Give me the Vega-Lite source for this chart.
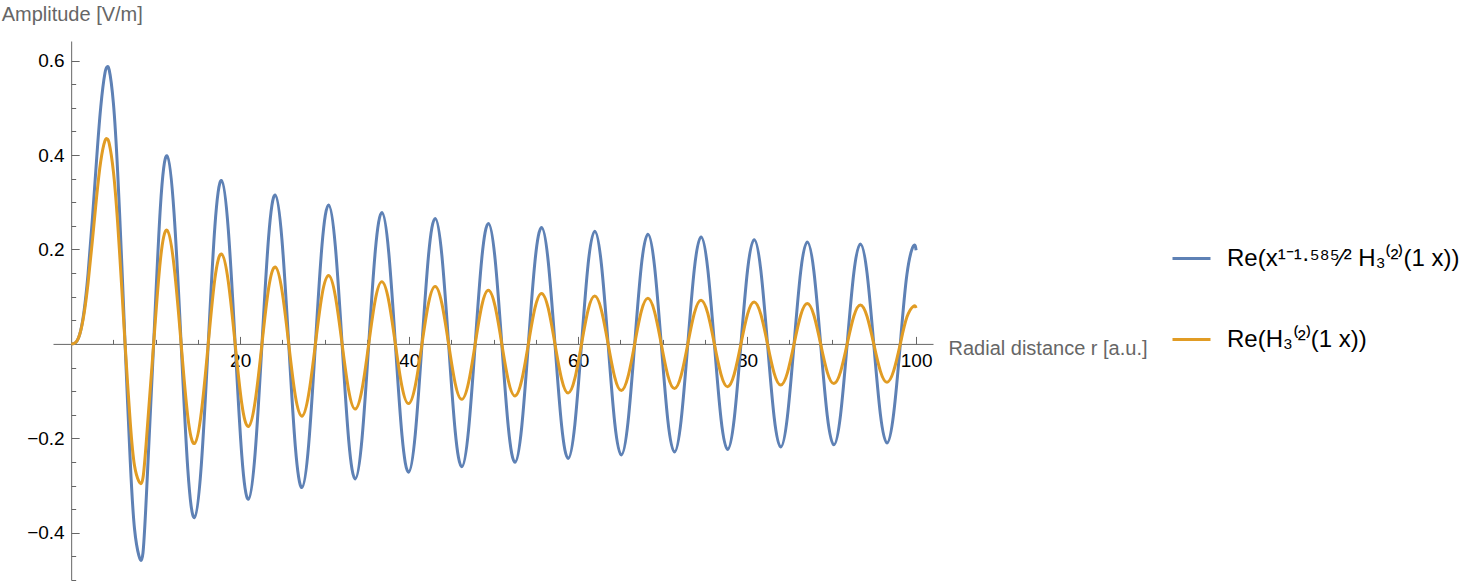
{
  "$schema": "https://vega.github.io/schema/vega-lite/v6.json",
  "width": 880,
  "height": 539,
  "autosize": {"type": "none"},
  "padding": {"left": 53, "top": 41, "right": 541, "bottom": 8},
  "background": "white",
  "config": {
    "view": {"stroke": null},
    "axis": {
      "grid": false,
      "domainColor": "#666666",
      "tickColor": "#666666",
      "labelColor": "#000000",
      "labelFont": "Liberation Sans",
      "labelFontSize": 19,
      "titleFont": "Liberation Sans",
      "titleFontSize": 20,
      "titleColor": "#666666",
      "titleFontWeight": "normal",
      "labelFlush": false,
      "labelOverlap": false
    }
  },
  "data": {
    "values": [
      {"x": 0, "a": 0, "b": 0},
      {"x": 0.5, "a": 0.00222, "b": 0.00256},
      {"x": 1, "a": 0.01956, "b": 0.01956},
      {"x": 1.5, "a": 0.06632, "b": 0.06097},
      {"x": 2, "a": 0.14889, "b": 0.12894},
      {"x": 2.5, "a": 0.26197, "b": 0.21661},
      {"x": 3, "a": 0.38819, "b": 0.30906},
      {"x": 3.5, "a": 0.50159, "b": 0.38677},
      {"x": 4, "a": 0.57355, "b": 0.43017},
      {"x": 4.25, "a": 0.58616, "b": 0.43414},
      {"x": 4.5, "a": 0.58027, "b": 0.4247},
      {"x": 5, "a": 0.50948, "b": 0.36483},
      {"x": 5.5, "a": 0.36481, "b": 0.25612},
      {"x": 6, "a": 0.16646, "b": 0.11477},
      {"x": 6.3802, "a": 0, "b": 0},
      {"x": 7, "a": -0.25092, "b": -0.16756},
      {"x": 7.5, "a": -0.39201, "b": -0.25806},
      {"x": 8.0152, "a": -0.44839, "b": -0.29113},
      {"x": 8.5, "a": -0.44224, "b": -0.28366},
      {"x": 9, "a": -0.28544, "b": -0.18093},
      {"x": 9.761, "a": 0, "b": 0},
      {"x": 10.55345, "a": 0.28789, "b": 0.17657},
      {"x": 11.3459, "a": 0.39838, "b": 0.24067},
      {"x": 12.18055, "a": 0.27605, "b": 0.16435},
      {"x": 13.0152, "a": 0, "b": 0},
      {"x": 13.8005, "a": -0.26444, "b": -0.1534},
      {"x": 14.5858, "a": -0.36785, "b": -0.21094},
      {"x": 15.40465, "a": -0.25607, "b": -0.14519},
      {"x": 16.2235, "a": 0, "b": 0},
      {"x": 17.0061, "a": 0.24797, "b": 0.13774},
      {"x": 17.7887, "a": 0.34602, "b": 0.19041},
      {"x": 18.59905, "a": 0.24156, "b": 0.13171},
      {"x": 19.4094, "a": 0, "b": 0},
      {"x": 20.191, "a": -0.23539, "b": -0.12618},
      {"x": 20.9726, "a": -0.32916, "b": -0.17505},
      {"x": 21.77765, "a": -0.23024, "b": -0.12149},
      {"x": 22.5827, "a": 0, "b": 0},
      {"x": 23.3638, "a": 0.22527, "b": 0.11715},
      {"x": 24.1449, "a": 0.31549, "b": 0.16295},
      {"x": 24.9465, "a": 0.22099, "b": 0.11337},
      {"x": 25.7481, "a": 0, "b": 0},
      {"x": 26.52905, "a": -0.21688, "b": -0.10985},
      {"x": 27.31, "a": -0.3041, "b": -0.1531},
      {"x": 28.10915, "a": -0.21324, "b": -0.10672},
      {"x": 28.9083, "a": 0, "b": 0},
      {"x": 29.6893, "a": 0.20973, "b": 0.10378},
      {"x": 30.4703, "a": 0.29434, "b": 0.14486},
      {"x": 31.26755, "a": 0.20658, "b": 0.10113},
      {"x": 32.0648, "a": 0, "b": 0},
      {"x": 32.84585, "a": -0.20355, "b": -0.09863},
      {"x": 33.6269, "a": -0.28587, "b": -0.13784},
      {"x": 34.4228, "a": -0.20078, "b": -0.09634},
      {"x": 35.2187, "a": 0, "b": 0},
      {"x": 35.99985, "a": 0.1981, "b": 0.09418},
      {"x": 36.781, "a": 0.27839, "b": 0.13176},
      {"x": 37.57575, "a": 0.19563, "b": 0.09218},
      {"x": 38.3705, "a": 0, "b": 0},
      {"x": 39.1518, "a": -0.19324, "b": -0.09029},
      {"x": 39.9331, "a": -0.2717, "b": -0.12642},
      {"x": 40.7269, "a": -0.19103, "b": -0.08852},
      {"x": 41.5207, "a": 0, "b": 0},
      {"x": 42.3022, "a": 0.1889, "b": 0.08685},
      {"x": 43.0837, "a": 0.26571, "b": 0.1217},
      {"x": 43.87675, "a": 0.18689, "b": 0.08528},
      {"x": 44.6698, "a": 0, "b": 0},
      {"x": 45.4514, "a": -0.18494, "b": -0.08377},
      {"x": 46.233, "a": -0.26024, "b": -0.11746},
      {"x": 47.0254, "a": -0.18311, "b": -0.08236},
      {"x": 47.8178, "a": 0, "b": 0},
      {"x": 48.59955, "a": 0.18133, "b": 0.081},
      {"x": 49.3813, "a": 0.25524, "b": 0.11364},
      {"x": 50.17315, "a": 0.17965, "b": 0.07972},
      {"x": 50.965, "a": 0, "b": 0},
      {"x": 51.74695, "a": -0.17801, "b": -0.07849},
      {"x": 52.5289, "a": -0.25064, "b": -0.11017},
      {"x": 53.3203, "a": -0.17646, "b": -0.07732},
      {"x": 54.1117, "a": 0, "b": 0},
      {"x": 54.8937, "a": 0.17494, "b": 0.0762},
      {"x": 55.6757, "a": 0.24638, "b": 0.107},
      {"x": 56.4667, "a": 0.1735, "b": 0.07513},
      {"x": 57.2577, "a": 0, "b": 0},
      {"x": 58.0399, "a": -0.1721, "b": -0.0741},
      {"x": 58.8221, "a": -0.24243, "b": -0.10409},
      {"x": 59.6127, "a": -0.17076, "b": -0.07312},
      {"x": 60.4033, "a": 0, "b": 0},
      {"x": 61.1856, "a": 0.16946, "b": 0.07217},
      {"x": 61.9679, "a": 0.23876, "b": 0.10141},
      {"x": 62.7582, "a": 0.16821, "b": 0.07126},
      {"x": 63.5485, "a": 0, "b": 0},
      {"x": 64.3309, "a": -0.16699, "b": -0.07038},
      {"x": 65.1133, "a": -0.23532, "b": -0.09893},
      {"x": 65.9033, "a": -0.16581, "b": -0.06953},
      {"x": 66.6933, "a": 0, "b": 0},
      {"x": 67.47575, "a": 0.16465, "b": 0.06871},
      {"x": 68.2582, "a": 0.23206, "b": 0.09661},
      {"x": 69.048, "a": 0.16354, "b": 0.06792},
      {"x": 69.8378, "a": 0, "b": 0},
      {"x": 70.6204, "a": -0.16247, "b": -0.06716},
      {"x": 71.403, "a": -0.22903, "b": -0.09446},
      {"x": 72.19255, "a": -0.16143, "b": -0.06643},
      {"x": 72.9821, "a": 0, "b": 0},
      {"x": 73.7648, "a": 0.16041, "b": 0.06571},
      {"x": 74.5475, "a": 0.22615, "b": 0.09244},
      {"x": 75.33685, "a": 0.15942, "b": 0.06502},
      {"x": 76.1262, "a": 0, "b": 0},
      {"x": 76.90895, "a": -0.15846, "b": -0.06435},
      {"x": 77.6917, "a": -0.22343, "b": -0.09055},
      {"x": 78.48085, "a": -0.15753, "b": -0.06371},
      {"x": 79.27, "a": 0, "b": 0},
      {"x": 80.05285, "a": 0.15661, "b": 0.06308},
      {"x": 80.8357, "a": 0.22085, "b": 0.08877},
      {"x": 81.6247, "a": 0.15572, "b": 0.06247},
      {"x": 82.4137, "a": 0, "b": 0},
      {"x": 83.19665, "a": -0.15487, "b": -0.06188},
      {"x": 83.9796, "a": -0.21842, "b": -0.0871},
      {"x": 84.76845, "a": -0.15403, "b": -0.0613},
      {"x": 85.5573, "a": 0, "b": 0},
      {"x": 86.3403, "a": 0.15317, "b": 0.06073},
      {"x": 87.1233, "a": 0.21604, "b": 0.0855},
      {"x": 87.912, "a": 0.15236, "b": 0.06019},
      {"x": 88.7007, "a": 0, "b": 0},
      {"x": 89.48375, "a": -0.15158, "b": -0.05966},
      {"x": 90.2668, "a": -0.21382, "b": -0.084},
      {"x": 91.0554, "a": -0.15081, "b": -0.05914},
      {"x": 91.844, "a": 0, "b": 0},
      {"x": 92.6271, "a": 0.15007, "b": 0.05864},
      {"x": 93.4102, "a": 0.21171, "b": 0.08258},
      {"x": 94.1987, "a": 0.14934, "b": 0.05815},
      {"x": 94.9872, "a": 0, "b": 0},
      {"x": 95.77035, "a": -0.1486, "b": -0.05767},
      {"x": 96.5535, "a": -0.20965, "b": -0.08122},
      {"x": 97.34185, "a": -0.1479, "b": -0.0572},
      {"x": 98.1302, "a": 0, "b": 0},
      {"x": 98.9134, "a": 0.14721, "b": 0.05674},
      {"x": 99.6967, "a": 0.2077, "b": 0.07993},
      {"x": 100, "a": 0.19828, "b": 0.07626}
    ]
  },
  "transform": [{"fold": ["a", "b"], "as": ["series", "y"]}],
  "layer": [
    {
      "transform": [{"filter": "datum.series === 'a'"}],
      "mark": {"type": "line", "interpolate": "natural", "strokeWidth": 3},
      "encoding": {
        "x": {
          "field": "x", "type": "quantitative",
          "scale": {"domain": [-2.15, 102], "nice": false, "zero": false},
          "axis": {
            "orient": "bottom", "offset": -236.1,
            "values": [20, 40, 60, 80, 100], "format": "d",
            "ticks": false, "domain": true, "domainWidth": 1,
            "labelPadding": 8,
            "title": "Radial distance r [a.u.]",
            "titleX": 895, "titleY": 11, "titleAlign": "left",
            "titleBaseline": "alphabetic", "titleAngle": 0
          }
        },
        "y": {
          "field": "y", "type": "quantitative",
          "scale": {"domain": [-0.5, 0.6415], "nice": false, "zero": false},
          "axis": {
            "orient": "left", "offset": -18.17,
            "values": [-0.4, -0.2, 0.2, 0.4, 0.6], "format": ".1f",
            "ticks": false, "domain": true, "domainWidth": 1,
            "labelPadding": 7,
            "title": "Amplitude [V/m]",
            "titleX": -70, "titleY": -20.5, "titleAlign": "left",
            "titleBaseline": "alphabetic", "titleAngle": 0
          }
        },
        "color": {
          "field": "series", "type": "nominal",
          "scale": {"domain": ["a", "b"], "range": ["#5E81B5", "#E19C24"]},
          "legend": {
            "orient": "none", "legendX": 1118, "legendY": 197,
            "title": null, "symbolType": "stroke", "symbolSize": 1444,
            "symbolStrokeWidth": 3, "labelFont": "Liberation Sans",
            "labelFontSize": 24, "labelColor": "#000000", "labelLimit": 500,
            "labelOffset": 15, "rowPadding": 48, "padding": 0,
            "labelExpr": "datum.value === 'a' ? 'Re(x¹⁻¹·⁵⁸⁵⁄² H₃⁽²⁾(1 x))' : 'Re(H₃⁽²⁾(1 x))'"
          }
        }
      }
    },
    {
      "transform": [{"filter": "datum.series === 'b'"}],
      "mark": {"type": "line", "interpolate": "natural", "strokeWidth": 3},
      "encoding": {
        "x": {"field": "x", "type": "quantitative", "scale": {"domain": [-2.15, 102], "nice": false, "zero": false}, "axis": null},
        "y": {"field": "y", "type": "quantitative", "scale": {"domain": [-0.5, 0.6415], "nice": false, "zero": false}, "axis": null},
        "color": {
          "field": "series", "type": "nominal",
          "scale": {"domain": ["a", "b"], "range": ["#5E81B5", "#E19C24"]},
          "legend": {
            "orient": "none", "legendX": 1118, "legendY": 197,
            "title": null, "symbolType": "stroke", "symbolSize": 1444,
            "symbolStrokeWidth": 3, "labelFont": "Liberation Sans",
            "labelFontSize": 24, "labelColor": "#000000", "labelLimit": 500,
            "labelOffset": 15, "rowPadding": 48, "padding": 0,
            "labelExpr": "datum.value === 'a' ? 'Re(x¹⁻¹·⁵⁸⁵⁄² H₃⁽²⁾(1 x))' : 'Re(H₃⁽²⁾(1 x))'"
          }
        }
      }
    },
    {
      "mark": {"type": "point", "opacity": 0},
      "encoding": {
        "x": {
          "field": "x", "type": "quantitative",
          "scale": {"domain": [-2.15, 102], "nice": false, "zero": false},
          "axis": {"orient": "bottom", "offset": -236.1, "values": [20, 40, 60, 80, 100], "labels": false, "domain": false, "ticks": true, "tickSize": -7.5, "tickWidth": 1, "title": null}
        },
        "y": {
          "field": "y", "type": "quantitative",
          "scale": {"domain": [-0.5, 0.6415], "nice": false, "zero": false},
          "axis": {"orient": "left", "offset": -18.17, "values": [-0.4, -0.2, 0.2, 0.4, 0.6], "labels": false, "domain": false, "ticks": true, "tickSize": -8, "tickWidth": 1, "title": null}
        }
      }
    },
    {
      "mark": {"type": "point", "opacity": 0},
      "encoding": {
        "x": {
          "field": "x", "type": "quantitative",
          "scale": {"domain": [-2.15, 102], "nice": false, "zero": false},
          "axis": {"orient": "bottom", "offset": -236.1, "values": [5, 10, 15, 25, 30, 35, 45, 50, 55, 65, 70, 75, 85, 90, 95], "labels": false, "domain": false, "ticks": true, "tickSize": -4.5, "tickWidth": 1, "title": null}
        },
        "y": {
          "field": "y", "type": "quantitative",
          "scale": {"domain": [-0.5, 0.6415], "nice": false, "zero": false},
          "axis": {"orient": "left", "offset": -18.17, "values": [-0.5, -0.45, -0.35, -0.3, -0.25, -0.15, -0.1, -0.05, 0.05, 0.1, 0.15, 0.25, 0.3, 0.35, 0.45, 0.5, 0.55], "labels": false, "domain": false, "ticks": true, "tickSize": -4.5, "tickWidth": 1, "title": null}
        }
      }
    }
  ],
  "resolve": {"axis": {"x": "independent", "y": "independent"}}
}
